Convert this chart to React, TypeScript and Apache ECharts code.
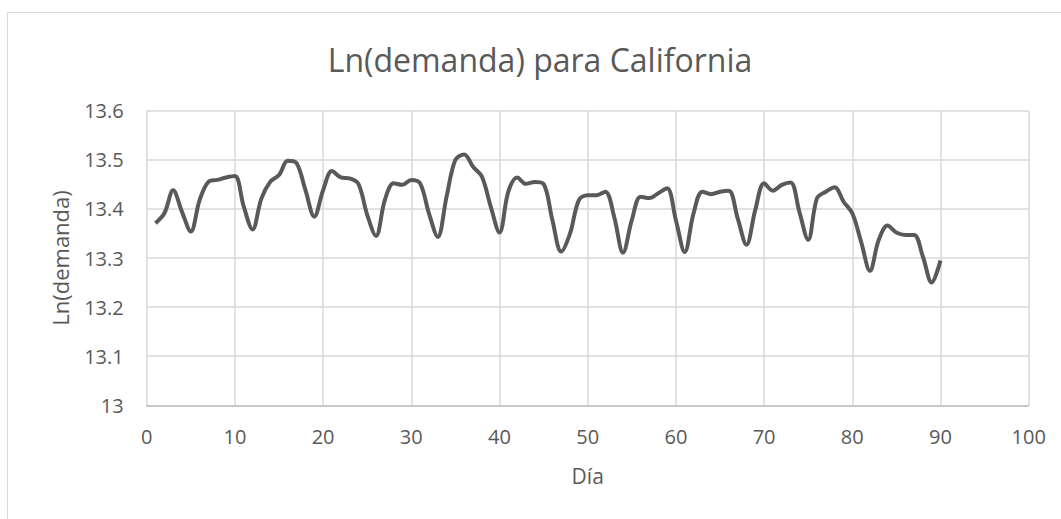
import React, { useEffect, useRef } from "react";
import * as echarts from "echarts";

const titleText = "Ln(demanda) para California";
const xAxisName = "Día";
const yAxisName = "Ln(demanda)";

const days: number[] = [
  1, 2, 3, 4, 5, 6, 7, 8, 9, 10, 11, 12, 13, 14, 15, 16, 17, 18, 19, 20, 21, 22, 23, 24, 25, 26, 27, 28, 29, 30,
  31, 32, 33, 34, 35, 36, 37, 38, 39, 40, 41, 42, 43, 44, 45, 46, 47, 48, 49, 50, 51, 52, 53, 54, 55, 56, 57, 58, 59, 60,
  61, 62, 63, 64, 65, 66, 67, 68, 69, 70, 71, 72, 73, 74, 75, 76, 77, 78, 79, 80, 81, 82, 83, 84, 85, 86, 87, 88, 89, 90,
];

const lnDemand: number[] = [
  13.371, 13.391, 13.438, 13.394, 13.354, 13.418, 13.455, 13.459, 13.464, 13.467,
  13.405, 13.358, 13.421, 13.455, 13.469, 13.498, 13.493, 13.438, 13.384, 13.438,
  13.477, 13.464, 13.462, 13.451, 13.388, 13.345, 13.418, 13.452, 13.449, 13.459,
  13.452, 13.391, 13.343, 13.425, 13.500, 13.511, 13.486, 13.466, 13.405, 13.352,
  13.435, 13.464, 13.451, 13.455, 13.451, 13.377, 13.313, 13.350, 13.418, 13.428,
  13.428, 13.435, 13.384, 13.311, 13.377, 13.425, 13.422, 13.432, 13.442, 13.377,
  13.312, 13.391, 13.435, 13.430, 13.435, 13.437, 13.381, 13.327, 13.398, 13.452,
  13.437, 13.449, 13.454, 13.394, 13.337, 13.422, 13.435, 13.444, 13.415, 13.391,
  13.333, 13.274, 13.337, 13.366, 13.352, 13.347, 13.347, 13.303, 13.250, 13.295,
];

const xMin = 0;
const xMax = 100;
const xStep = 10;
const yMin = 13.0;
const yMax = 13.6;
const yStep = 0.1;

const FONT = "'Open Sans', sans-serif";
const TEXT_COLOR = "#595959";

export default function App() {
  const ref = useRef<HTMLDivElement>(null);

  useEffect(() => {
    if (!ref.current) return;
    const chart = echarts.init(ref.current, undefined, { renderer: "svg" });
    const data = days.map((d, i) => [d, lnDemand[i]]);
    chart.setOption({
      animation: false,
      backgroundColor: "#ffffff",
      textStyle: { fontFamily: FONT },
      graphic: [
        {
          type: "rect",
          shape: { x: 7.5, y: 12.5, width: 1100, height: 600 },
          style: { fill: "none", stroke: "#d9d9d9", lineWidth: 1 },
          silent: true,
          z: -10,
        },
        {
          type: "text",
          x: 540,
          y: 59,
          style: {
            text: titleText,
            fontFamily: FONT,
            fontSize: 32,
            fill: TEXT_COLOR,
            textAlign: "center",
            textVerticalAlign: "middle",
          },
        },
      ],
      grid: { left: 146.7, top: 110.7, right: 32.3, bottom: 113.7, containLabel: false },
      xAxis: {
        type: "value",
        min: xMin,
        max: xMax,
        interval: xStep,
        name: xAxisName,
        nameLocation: "middle",
        nameGap: 60,
        nameTextStyle: { fontFamily: FONT, fontSize: 21, color: TEXT_COLOR },
        axisLine: { show: true, lineStyle: { color: "#bfbfbf", width: 1.5 } },
        axisTick: { show: false },
        axisLabel: { fontFamily: FONT, fontSize: 20, color: TEXT_COLOR, margin: 21 },
        splitLine: { show: true, lineStyle: { color: "#d9d9d9", width: 1.5 } },
      },
      yAxis: {
        type: "value",
        min: yMin,
        max: yMax,
        interval: yStep,
        name: yAxisName,
        nameLocation: "middle",
        nameGap: 76,
        nameRotate: 90,
        nameTextStyle: { fontFamily: FONT, fontSize: 22, color: TEXT_COLOR },
        axisLine: { show: false },
        axisTick: { show: false },
        axisLabel: {
          fontFamily: FONT,
          fontSize: 20,
          color: TEXT_COLOR,
          margin: 23,
          formatter: (v: number) => String(Number(v.toFixed(1))),
        },
        splitLine: { show: true, lineStyle: { color: "#d9d9d9", width: 1.5 } },
      },
      series: [
        {
          type: "line",
          data,
          smooth: 0.35,
          showSymbol: false,
          lineStyle: { color: "#595959", width: 4 },
        },
      ],
    });
    return () => chart.dispose();
  }, []);

  return (
    <div
      ref={ref}
      style={{ position: "absolute", left: 0, top: 0, width: 1061, height: 519 }}
    />
  );
}
